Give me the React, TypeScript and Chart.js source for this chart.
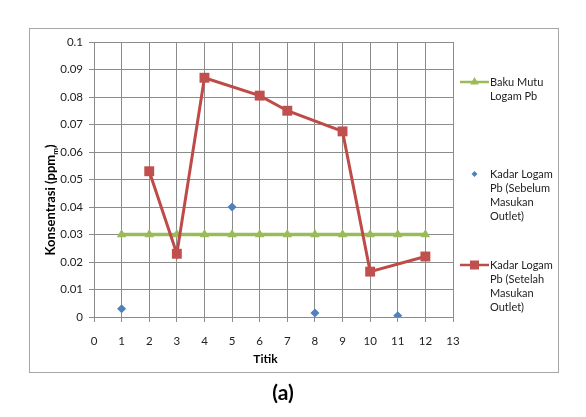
import React, { useEffect, useRef } from "react";
import { Chart, registerables } from "chart.js";

Chart.register(...registerables);

const titik = [1, 2, 3, 4, 5, 6, 7, 8, 9, 10, 11, 12];
const bakuMutu = [0.03, 0.03, 0.03, 0.03, 0.03, 0.03, 0.03, 0.03, 0.03, 0.03, 0.03, 0.03];
const sebelum = [0.003, null, null, null, 0.04, null, null, 0.0015, null, null, 0.0005, null];
const setelah = [null, 0.053, 0.023, 0.087, null, 0.0805, 0.075, null, 0.0675, 0.0165, null, 0.022];
const xTicks = [0, 1, 2, 3, 4, 5, 6, 7, 8, 9, 10, 11, 12, 13];
const yTicks = [0, 0.01, 0.02, 0.03, 0.04, 0.05, 0.06, 0.07, 0.08, 0.09, 0.1];

const legendLabels = [
  ["Baku Mutu", "Logam Pb"],
  ["Kadar Logam", "Pb (Sebelum", "Masukan", "Outlet)"],
  ["Kadar Logam", "Pb (Setelah", "Masukan", "Outlet)"],
];

const GREEN = "#9BBB59";
const BLUE = "#4F81BD";
const RED = "#BE4B48";
const RED_FILL = "#C0504D";
const FONT = "Lato, 'Open Sans', sans-serif";

const toPoints = (vals: (number | null)[]) =>
  titik
    .map((t, i) => ({ x: t, y: vals[i] }))
    .filter((p) => p.y !== null) as { x: number; y: number }[];

function drawMarker(ctx: CanvasRenderingContext2D, kind: string, x: number, y: number, color: string) {
  ctx.save();
  ctx.fillStyle = color;
  ctx.strokeStyle = color;
  ctx.beginPath();
  if (kind === "triangle") {
    const r = 5;
    ctx.moveTo(x, y - r);
    ctx.lineTo(x + r * 0.866, y + r * 0.5);
    ctx.lineTo(x - r * 0.866, y + r * 0.5);
  } else if (kind === "diamond") {
    const r = 3;
    ctx.moveTo(x, y - r);
    ctx.lineTo(x + r, y);
    ctx.lineTo(x, y + r);
    ctx.lineTo(x - r, y);
  } else {
    const s = 4.5;
    ctx.rect(x - s, y - s, 2 * s, 2 * s);
  }
  ctx.closePath();
  ctx.fill();
  ctx.restore();
}

const extrasPlugin = {
  id: "extras",
  beforeDraw(chart: any) {
    const ctx = chart.ctx as CanvasRenderingContext2D;
    ctx.save();
    ctx.fillStyle = "#ffffff";
    ctx.fillRect(0, 0, chart.width, chart.height);
    ctx.strokeStyle = "#a6a6a6";
    ctx.lineWidth = 1;
    ctx.strokeRect(29.5, 28.5, 529, 344);
    ctx.restore();
  },
  afterDraw(chart: any) {
    const ctx = chart.ctx as CanvasRenderingContext2D;
    const area = chart.chartArea;
    ctx.save();
    ctx.fillStyle = "#000";
    // x title
    ctx.font = `bold 12px ${FONT}`;
    ctx.textAlign = "center";
    ctx.textBaseline = "middle";
    ctx.fillText("Titik", (area.left + area.right) / 2 - 8, 359);

    // y title with subscript
    ctx.save();
    ctx.translate(50, 200);
    ctx.rotate(-Math.PI / 2);
    const main = "Konsentrasi (ppm";
    const sub = "m";
    const close = ")";
    ctx.font = `bold 13px ${FONT}`;
    const wMain = ctx.measureText(main).width;
    const wClose = ctx.measureText(close).width;
    ctx.font = `bold 8px ${FONT}`;
    const wSub = ctx.measureText(sub).width;
    const total = wMain + wSub + wClose;
    const x0 = -total / 2;
    ctx.textAlign = "left";
    ctx.textBaseline = "alphabetic";
    ctx.font = `bold 13px ${FONT}`;
    ctx.fillText(main, x0, 5);
    ctx.font = `bold 8px ${FONT}`;
    ctx.fillText(sub, x0 + wMain, 8);
    ctx.font = `bold 13px ${FONT}`;
    ctx.fillText(close, x0 + wMain + wSub, 5);
    ctx.restore();

    // legend
    const items = [
      { kind: "triangle", color: GREEN, line: true, lw: 2.5, y: 82 },
      { kind: "diamond", color: BLUE, line: false, lw: 0, y: 174 },
      { kind: "rect", color: RED_FILL, line: true, lw: 2.5, y: 265 },
    ];
    items.forEach((it, i) => {
      if (it.line) {
        ctx.save();
        ctx.strokeStyle = it.kind === "rect" ? RED : it.color;
        ctx.lineWidth = it.lw;
        ctx.beginPath();
        ctx.moveTo(460, it.y);
        ctx.lineTo(489, it.y);
        ctx.stroke();
        ctx.restore();
      }
      drawMarker(ctx, it.kind, 474.5, it.y, it.color);
      ctx.font = `11px ${FONT}`;
      ctx.fillStyle = "#222";
      ctx.textAlign = "left";
      ctx.textBaseline = "middle";
      legendLabels[i].forEach((line, j) => {
        ctx.fillText(line, 490, it.y + j * 14);
      });
    });

    // caption
    ctx.fillStyle = "#000";
    ctx.font = `bold 21px ${FONT}`;
    ctx.textAlign = "center";
    ctx.textBaseline = "middle";
    ctx.fillText("(a)", 283, 393);
    ctx.restore();
  },
};

export default function App() {
  const ref = useRef<HTMLCanvasElement | null>(null);

  useEffect(() => {
    document.body.style.margin = "0";
    const canvas = ref.current;
    if (!canvas) return;
    const chart = new Chart(canvas, {
      type: "line",
      data: {
        datasets: [
          {
            label: "Baku Mutu Logam Pb",
            data: toPoints(bakuMutu),
            borderColor: GREEN,
            backgroundColor: GREEN,
            borderWidth: 3.5,
            pointStyle: "triangle",
            pointRadius: 5.5,
            pointBorderWidth: 0,
            order: 3,
          },
          {
            label: "Kadar Logam Pb (Sebelum Masukan Outlet)",
            data: toPoints(sebelum),
            showLine: false,
            borderColor: BLUE,
            backgroundColor: BLUE,
            pointStyle: "rectRot",
            pointRadius: 4.5,
            pointBorderWidth: 0,
            order: 2,
          },
          {
            label: "Kadar Logam Pb (Setelah Masukan Outlet)",
            data: toPoints(setelah),
            borderColor: RED,
            backgroundColor: RED_FILL,
            borderWidth: 3,
            pointStyle: "rect",
            pointRadius: 7,
            pointBorderWidth: 0,
            order: 1,
          },
        ],
      },
      options: {
        responsive: false,
        animation: false,
        layout: { padding: { left: 29, right: 133, top: 42, bottom: 0 } },
        plugins: { legend: { display: false }, tooltip: { enabled: false } },
        scales: {
          x: {
            type: "linear",
            min: 0,
            max: 13,
            afterBuildTicks: (scale: any) => {
              scale.ticks = xTicks.map((v) => ({ value: v }));
            },
            afterFit: (scale: any) => {
              scale.height = 100;
            },
            grid: { color: "#8c8c8c", tickLength: 5, lineWidth: 1 },
            border: { color: "#8c8c8c" },
            ticks: {
              padding: 12,
              color: "#222",
              font: { family: FONT, size: 11.5 },
              callback: (v: any) => String(v),
            },
          },
          y: {
            type: "linear",
            min: 0,
            max: 0.1,
            afterBuildTicks: (scale: any) => {
              scale.ticks = yTicks.map((v) => ({ value: v }));
            },
            afterFit: (scale: any) => {
              scale.width = 65;
            },
            grid: { color: "#8c8c8c", tickLength: 5, lineWidth: 1 },
            border: { color: "#8c8c8c" },
            ticks: {
              padding: 6,
              color: "#222",
              font: { family: FONT, size: 11.5 },
              callback: (v: any) => String(Number(Number(v).toFixed(2))),
            },
          },
        },
      },
      plugins: [extrasPlugin],
    } as any);
    return () => chart.destroy();
  }, []);

  return <canvas ref={ref} width={586} height={417} style={{ display: "block" }} />;
}
